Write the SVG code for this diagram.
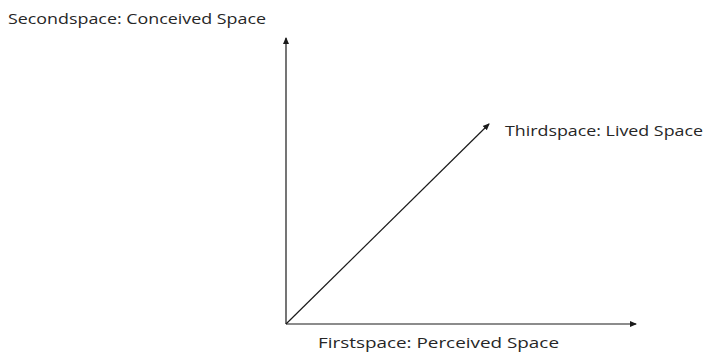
<svg xmlns="http://www.w3.org/2000/svg" width="706" height="353" viewBox="0 0 706 353">
<style>
text{font-family:"Open Sans","Liberation Sans",sans-serif;font-size:15px;fill:#262626}
.ax{stroke:#1a1a1a;stroke-width:1.2;fill:none}
</style>
<defs>
<marker id="ah" markerWidth="8" markerHeight="8" refX="6" refY="4" orient="auto" markerUnits="userSpaceOnUse">
<path d="M0,1 L7,4 L0,7 Z" fill="#1a1a1a"/>
</marker>
</defs>
<rect width="706" height="353" fill="#fff"/>
<g id="connectors">
<line class="ax" x1="286" y1="324" x2="286" y2="38" marker-end="url(#ah)"/>
<line class="ax" x1="286" y1="324" x2="636" y2="324" marker-end="url(#ah)"/>
<line class="ax" x1="286" y1="324" x2="489" y2="124" marker-end="url(#ah)"/>
</g>
<g id="secondspace"><text x="8" y="24" textLength="258" lengthAdjust="spacingAndGlyphs">Secondspace: Conceived Space</text></g>
<g id="thirdspace"><text x="505" y="136" textLength="198" lengthAdjust="spacingAndGlyphs">Thirdspace: Lived Space</text></g>
<g id="firstspace"><text x="318" y="348" textLength="241" lengthAdjust="spacingAndGlyphs">Firstspace: Perceived Space</text></g>
</svg>
